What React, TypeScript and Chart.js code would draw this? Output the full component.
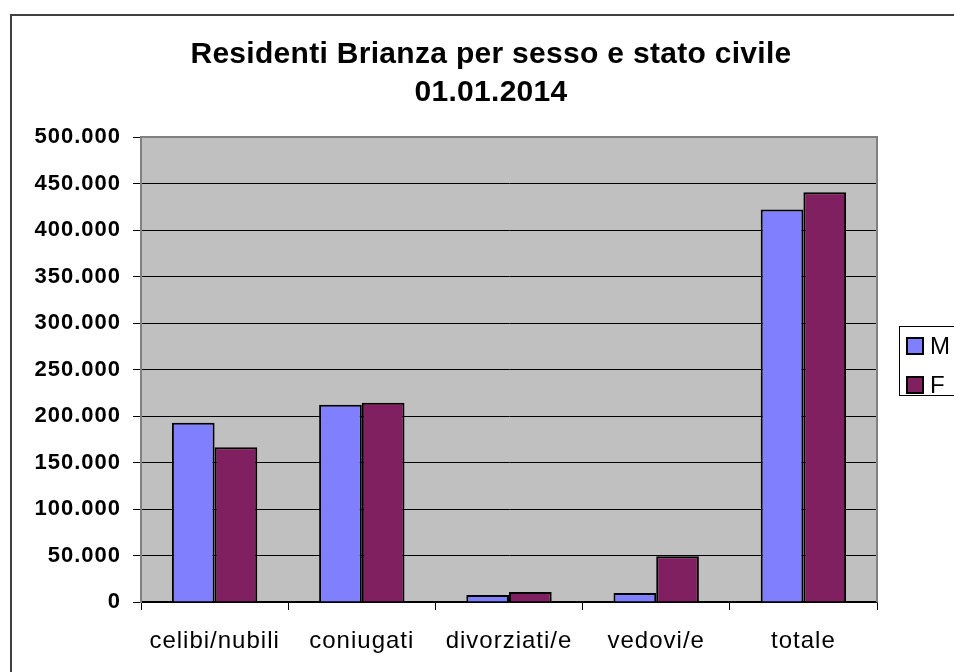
import { useRef, useEffect } from "react";
import { Chart, registerables, type Plugin } from "chart.js";

Chart.register(...registerables);

const categories = ["celibi/nubili", "coniugati", "divorziati/e", "vedovi/e", "totale"];
const maschi = [192800, 212000, 7500, 9800, 422100];
const femmine = [166300, 214300, 10800, 49200, 440600];
const titleLines = ["Residenti Brianza per sesso e stato civile", "01.01.2014"];

const FONT = "'Liberation Sans', Arial, sans-serif";

const formatIt = (v: number) => String(v).replace(/\B(?=(\d{3})+(?!\d))/g, ".");

// grey plot area, Excel style title and boxed legend
const excelDecor: Plugin<"bar"> = {
  id: "excelDecor",
  beforeDraw(chart) {
    const { ctx, chartArea: a } = chart;
    ctx.save();
    ctx.fillStyle = "#c0c0c0";
    ctx.fillRect(a.left, a.top, a.right - a.left, a.bottom - a.top);
    ctx.restore();
    // the old excel text runs a bit wider than Arial here
    (ctx as any).letterSpacing = "1px";
  },
  beforeDatasetsDraw(chart) {
    const { ctx, chartArea: a } = chart;
    ctx.save();
    ctx.strokeStyle = "#808080";
    ctx.lineWidth = 2;
    ctx.beginPath();
    ctx.moveTo(a.left, a.bottom);
    ctx.lineTo(a.left, a.top);
    ctx.lineTo(a.right, a.top);
    ctx.lineTo(a.right, a.bottom);
    ctx.stroke();
    ctx.restore();
  },
  afterDraw(chart) {
    const { ctx, chartArea: a } = chart;
    ctx.save();
    // title
    (ctx as any).letterSpacing = "0.3px";
    ctx.fillStyle = "#000";
    ctx.font = `bold 30px ${FONT}`;
    ctx.textAlign = "center";
    ctx.textBaseline = "middle";
    titleLines.forEach((line, i) => ctx.fillText(line, chart.width / 2, 39 + i * 37.5));

    // legend
    (ctx as any).letterSpacing = "0px";
    const lx = a.right + 22;
    const ly = 310;
    ctx.fillStyle = "#fff";
    ctx.strokeStyle = "#000";
    ctx.lineWidth = 1;
    ctx.fillRect(lx, ly, 80, 69);
    ctx.strokeRect(lx + 0.5, ly + 0.5, 80, 69);
    ctx.font = `24px ${FONT}`;
    ctx.textAlign = "left";
    chart.data.datasets.forEach((ds, i) => {
      const y = ly + 20 + i * 39;
      ctx.fillStyle = ds.backgroundColor as string;
      ctx.fillRect(lx + 8, y - 8, 16, 16);
      ctx.lineWidth = 2;
      ctx.strokeRect(lx + 8, y - 8, 16, 16);
      ctx.fillStyle = "#000";
      ctx.fillText(ds.label ?? "", lx + 31, y + 1);
    });
    ctx.restore();
  },
};

export default function App() {
  const canvasRef = useRef<HTMLCanvasElement>(null);
  const chartRef = useRef<Chart<"bar"> | null>(null);

  useEffect(() => {
    if (!canvasRef.current) return;
    chartRef.current?.destroy();

    chartRef.current = new Chart(canvasRef.current, {
      type: "bar",
      data: {
        labels: categories,
        datasets: [
          {
            label: "M",
            data: maschi,
            backgroundColor: "#8080ff",
            borderColor: "#000",
            borderWidth: 2,
            borderSkipped: "bottom",
            categoryPercentage: 0.58,
            barPercentage: 1,
          },
          {
            label: "F",
            data: femmine,
            backgroundColor: "#802060",
            borderColor: "#000",
            borderWidth: 2,
            borderSkipped: "bottom",
            categoryPercentage: 0.58,
            barPercentage: 1,
          },
        ],
      },
      options: {
        responsive: true,
        maintainAspectRatio: false,
        animation: false,
        layout: { padding: { top: 121, right: 93, bottom: 0, left: 0 } },
        plugins: {
          legend: { display: false },
          title: { display: false },
          tooltip: { enabled: false },
        },
        scales: {
          x: {
            afterFit: (s) => {
              s.height = 78;
            },
            grid: {
              offset: true,
              drawOnChartArea: false,
              tickLength: 8,
              tickColor: "#000",
              lineWidth: 1,
            },
            border: { color: "#000", width: 1.5 },
            ticks: {
              color: "#000",
              padding: 17,
              font: { family: FONT, size: 24 },
            },
          },
          y: {
            min: 0,
            max: 500000,
            afterFit: (s) => {
              s.width = 129;
            },
            grid: {
              color: (c) => (c.tick && c.tick.value === 500000 ? "#808080" : "#000"),
              tickColor: "#000",
              tickLength: 8,
              lineWidth: 1,
            },
            border: { color: "#808080", width: 2 },
            ticks: {
              stepSize: 50000,
              color: "#000",
              padding: 12,
              font: { family: FONT, size: 22, weight: "bold" },
              callback: (v) => formatIt(Number(v)),
            },
          },
        },
      },
      plugins: [excelDecor],
    });

    return () => {
      chartRef.current?.destroy();
    };
  }, []);

  return (
    <div style={{ position: "fixed", left: 0, top: 0, width: 954, height: 672, overflow: "hidden", background: "#fff" }}>
      <div
        style={{
          position: "absolute",
          left: 10,
          top: 14,
          width: 962,
          height: 668,
          border: "2px solid #404040",
          boxSizing: "border-box",
          background: "#fff",
        }}
      >
        <div style={{ position: "relative", width: 958, height: 664 }}>
          <canvas ref={canvasRef} />
        </div>
      </div>
    </div>
  );
}
